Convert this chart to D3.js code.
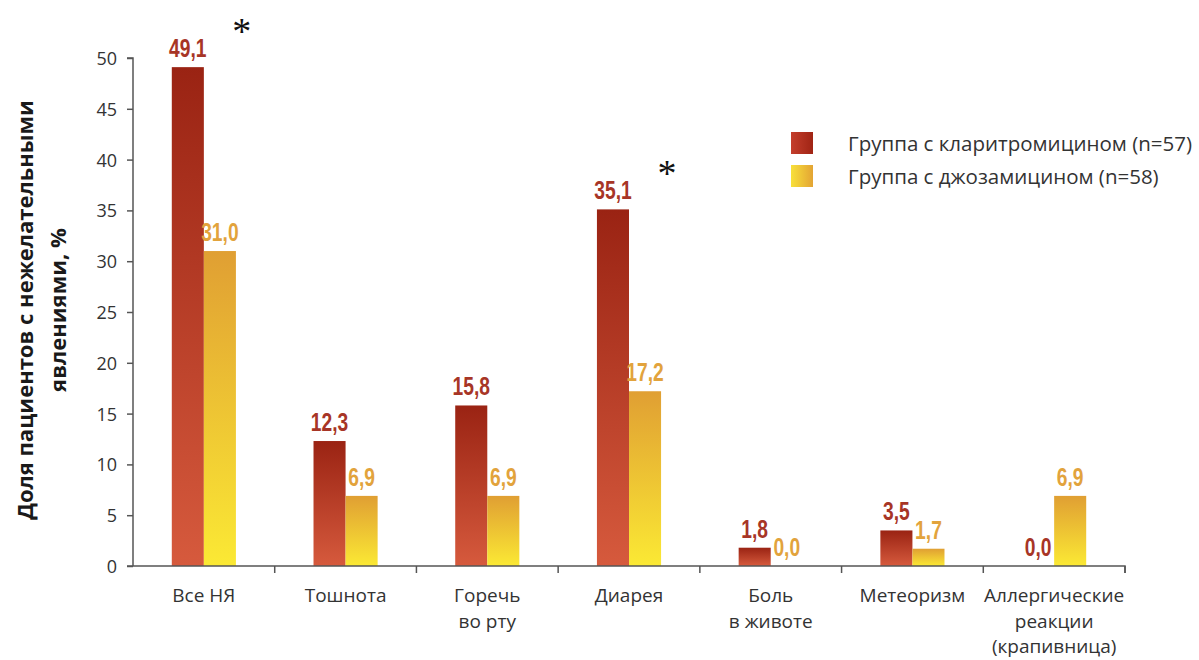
<!DOCTYPE html>
<html><head><meta charset="utf-8">
<script src="https://cdn.jsdelivr.net/npm/d3@7"></script>
<style>
html,body{margin:0;padding:0;background:#fff;}
svg{display:block;}
</style></head>
<body>
<svg id="chart" width="1199" height="660"></svg>
<script>
const categories = [["Все НЯ"],["Тошнота"],["Горечь","во рту"],["Диарея"],["Боль","в животе"],["Метеоризм"],["Аллергические","реакции","(крапивница)"]];
const seriesNames = ["Группа с кларитромицином (n=57)","Группа с джозамицином (n=58)"];
const clarithromycin = [49.1,12.3,15.8,35.1,1.8,3.5,0.0];
const josamycin = [31.0,6.9,6.9,17.2,0.0,1.7,6.9];
const significant = [true,false,false,true,false,false,false];
const yTicks = [0,5,10,15,20,25,30,35,40,45,50];
const yTitle = ["Доля пациентов с нежелательными","явлениями, %"];

const svg = d3.select("#chart");
const catKeys = categories.map(c=>c.join(" "));
const x = d3.scaleBand().domain(catKeys).range([133,1125]).padding(0);
const sub = d3.scaleBand().domain([0,1]).range([0,x.bandwidth()]).paddingInner(0).paddingOuter(1.21);
const y = d3.scaleLinear().domain([0,50]).range([566,58]);

const defs = svg.append("defs");
function vgrad(id, top, bottom){
  const g = defs.append("linearGradient").attr("id",id).attr("x1",0).attr("y1",0).attr("x2",0).attr("y2",1);
  g.append("stop").attr("offset","0%").attr("stop-color",top);
  g.append("stop").attr("offset","100%").attr("stop-color",bottom);
}
function hgrad(id, l, r){
  const g = defs.append("linearGradient").attr("id",id).attr("x1",0).attr("y1",0).attr("x2",1).attr("y2",0);
  g.append("stop").attr("offset","0%").attr("stop-color",l);
  g.append("stop").attr("offset","100%").attr("stop-color",r);
}
vgrad("gRed","#9a2313","#d65a3d");
vgrad("gYel","#e09f33","#fbe934");
hgrad("lRed","#c43e2c","#a02414");
hgrad("lYel","#f8e03a","#e3a434");

const fills = ["url(#gRed)","url(#gYel)"];
const labelColors = ["#a73526","#e2a33c"];
const seriesVals = [clarithromycin, josamycin];

// bars
seriesVals.forEach((vals,si)=>{
  svg.append("g").selectAll("rect").data(vals).join("rect")
    .attr("x",(d,i)=>x(catKeys[i])+sub(si))
    .attr("width",sub.bandwidth())
    .attr("y",d=>y(d))
    .attr("height",d=>y(0)-y(d))
    .attr("fill",fills[si]);
  svg.append("g").selectAll("text").data(vals).join("text")
    .attr("transform",(d,i)=>`translate(${x(catKeys[i])+sub(si)+sub.bandwidth()/2},${y(d)-10}) scale(0.74,1)`)
    .attr("text-anchor","middle")
    .attr("font-family","'Liberation Sans Narrow','Arial Narrow',sans-serif")
    .attr("font-weight","bold")
    .attr("font-size",26)
    .attr("fill",labelColors[si])
    .text(d=>d3.format(".1f")(d).replace(".",","));
});

// asterisks
svg.append("g").selectAll("text").data(significant.map((s,i)=>({s,i})).filter(d=>d.s)).join("text")
  .attr("x",d=>x(catKeys[d.i])+x.bandwidth()/2+38)
  .attr("y",d=>y(clarithromycin[d.i])-23)
  .attr("text-anchor","middle")
  .attr("font-family","'Liberation Serif','DejaVu Serif',serif")
  .attr("font-size",38)
  .attr("fill","#111")
  .text("*");

// y axis
const axisColor = "#555";
const ya = svg.append("g").attr("transform","translate(133,0)")
  .call(d3.axisLeft(y).tickValues(yTicks).tickSize(6).tickPadding(10).tickFormat(d3.format("d")));
ya.select(".domain").attr("stroke",axisColor).attr("stroke-width",1.5).attr("d","M0,566V58H-6");
ya.selectAll(".tick line").attr("stroke",axisColor).attr("stroke-width",1.5);
ya.selectAll(".tick text").attr("font-family","'Open Sans',sans-serif").attr("font-size",18).attr("fill","#333").attr("dy","0.36em");

// x axis
const xa = svg.append("g").attr("transform","translate(0,566)")
  .call(d3.axisBottom(x).tickSize(0).tickFormat(""));
xa.select(".domain").attr("stroke",axisColor).attr("stroke-width",1.5).attr("d","M127,0H1125V7");
xa.selectAll(".tick").remove();
const bounds = catKeys.map(k=>x(k)+x.bandwidth());
xa.append("g").selectAll("line").data(bounds).join("line")
  .attr("x1",d=>d).attr("x2",d=>d).attr("y1",0).attr("y2",7)
  .attr("stroke",axisColor).attr("stroke-width",1.5);

// category labels
const cl = svg.append("g").selectAll("text").data(categories).join("text")
  .attr("text-anchor","middle")
  .attr("font-family","'Open Sans',sans-serif")
  .attr("font-size",19)
  .attr("fill","#333")
  .attr("x",(d,i)=>x(catKeys[i])+x.bandwidth()/2)
  .attr("y",602);
cl.each(function(d,i){
  const t = d3.select(this);
  d.forEach((line,li)=>{
    t.append("tspan").attr("x",x(catKeys[i])+x.bandwidth()/2).attr("y",602+li*25.5).text(line);
  });
});

// y title
const yt = svg.append("text")
  .attr("transform","translate(0,310) rotate(-90)")
  .attr("text-anchor","middle")
  .attr("font-family","'Open Sans',sans-serif")
  .attr("font-weight","bold")
  .attr("font-size",22)
  .attr("fill","#1a1a1a");
yTitle.forEach((line,li)=>{
  yt.append("tspan").attr("x",0).attr("y",33+li*33).text(line);
});

// legend
const lg = svg.append("g");
const lfills = ["url(#lRed)","url(#lYel)"];
seriesNames.forEach((n,i)=>{
  lg.append("rect").attr("x",791).attr("y",132+i*33).attr("width",22).attr("height",22).attr("fill",lfills[i]);
  lg.append("text").attr("x",848).attr("y",151+i*33)
    .attr("font-family","'Open Sans',sans-serif").attr("font-size",20.5).attr("fill","#333").text(n);
});
</script>
</body></html>
